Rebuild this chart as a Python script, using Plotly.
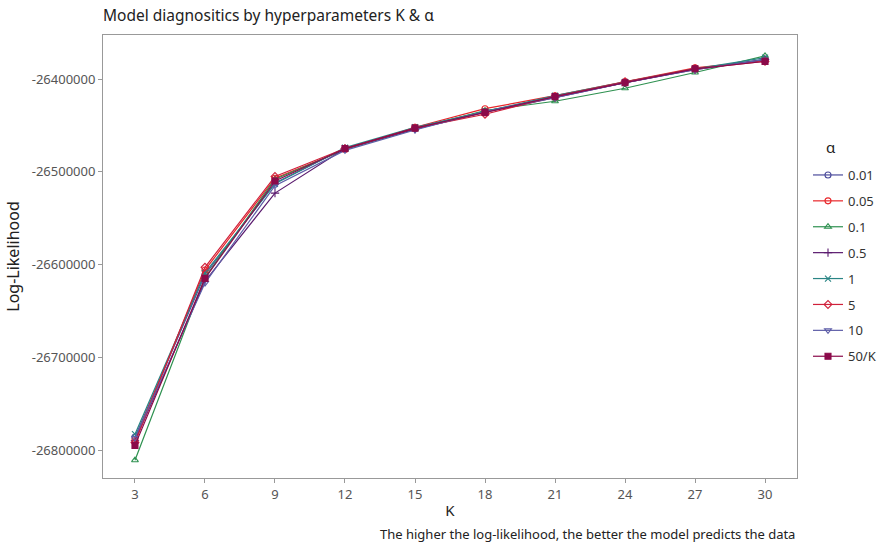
import plotly.graph_objects as go

K = [3, 6, 9, 12, 15, 18, 21, 24, 27, 30]
alphas = ["0.01", "0.05", "0.1", "0.5", "1", "5", "10", "50/K"]

ll_001 = [-26786000, -26611000, -26512000, -26475000, -26453000, -26435000, -26419000, -26404000, -26389000, -26379000]
ll_005 = [-26789000, -26606000, -26507000, -26476000, -26452000, -26432000, -26418000, -26403000, -26388000, -26380000]
ll_01 = [-26811000, -26614000, -26508000, -26476000, -26454000, -26434000, -26424000, -26410000, -26393000, -26375000]
ll_05 = [-26790000, -26618000, -26523000, -26475000, -26454000, -26436000, -26420000, -26404000, -26390000, -26379000]
ll_1 = [-26783000, -26609000, -26513000, -26474000, -26452000, -26435000, -26418000, -26403000, -26389000, -26377000]
ll_5 = [-26792000, -26603000, -26505000, -26475000, -26453000, -26438000, -26419000, -26403000, -26389000, -26381000]
ll_10 = [-26787000, -26620000, -26515000, -26477000, -26455000, -26435000, -26420000, -26404000, -26390000, -26379000]
ll_50K = [-26795000, -26615000, -26510000, -26475000, -26453000, -26436000, -26419000, -26404000, -26389000, -26381000]

series = [ll_001, ll_005, ll_01, ll_05, ll_1, ll_5, ll_10, ll_50K]
colors = ["#4B4B9B", "#E8262A", "#2E9150", "#5A1A6E", "#2A8585", "#D0203A", "#5E5EA8", "#8B0A4A"]
symbols = ["circle-open", "circle-open", "triangle-up-open", "cross-thin-open", "x-thin-open",
           "diamond-open", "triangle-down-open", "square"]

yticks = [-26400000, -26500000, -26600000, -26700000, -26800000]
ytick_text = ["-26400000", "-26500000", "-26600000", "-26700000", "-26800000"]

fig = go.Figure()
for name, vals, c, s in zip(alphas, series, colors, symbols):
    fig.add_trace(go.Scatter(
        x=K, y=vals, name=name, mode="lines+markers", legendgroup=name,
        line=dict(color=c, width=1.2),
        marker=dict(symbol=s, size=6, color=c, line=dict(color=c, width=1.1)),
    ))

font_family = "Noto Sans, DejaVu Sans, sans-serif"
fig.update_layout(
    width=889, height=545,
    margin=dict(l=103, r=92, t=35, b=67, autoexpand=False),
    paper_bgcolor="white", plot_bgcolor="white",
    font=dict(family=font_family, size=12, color="#222222"),
    title=dict(text="Model diagnositics by hyperparameters K &amp; α", x=103/889, xanchor="left",
               y=1 - 16/545, yanchor="middle", font=dict(size=15.5, color="#222222")),
    legend=dict(xref="container", yref="container",
                x=808/889, xanchor="left", y=1 - 160/545, yanchor="top",
                font=dict(size=13, color="#333333"), tracegroupgap=6.0, itemwidth=30),
    showlegend=True,
)
fig.update_xaxes(
    range=[1.63, 31.37], tickvals=K, ticktext=[str(k) for k in K],
    showgrid=False, zeroline=False, showline=True, linecolor="#999999", linewidth=1, mirror=True,
    ticks="outside", ticklen=4, tickcolor="#999999", tickfont=dict(size=13, color="#555555"),
    title=dict(text="K", font=dict(size=15, color="#222222"), standoff=3),
)
fig.update_yaxes(
    range=[-26830190, -26352560], tickvals=yticks, ticktext=ytick_text,
    showgrid=False, zeroline=False, showline=True, linecolor="#999999", linewidth=1, mirror=True,
    ticks="outside", ticklen=4, tickcolor="#999999", tickfont=dict(size=13, color="#555555"),
    title=dict(text="Log-Likelihood", font=dict(size=16, color="#222222"), standoff=8),
)
fig.add_annotation(
    text="α", xref="paper", yref="paper", x=(824 - 103) / 694, xanchor="left",
    y=(478 - 147) / 443, yanchor="middle", showarrow=False,
    font=dict(size=15, color="#222222"),
)
fig.add_annotation(
    text="The higher the log-likelihood, the better the model predicts the data",
    xref="paper", yref="paper", x=1, xanchor="right", y=-56/443, yanchor="middle",
    showarrow=False, font=dict(size=13, color="#222222"),
)
fig.write_html("out.html")
